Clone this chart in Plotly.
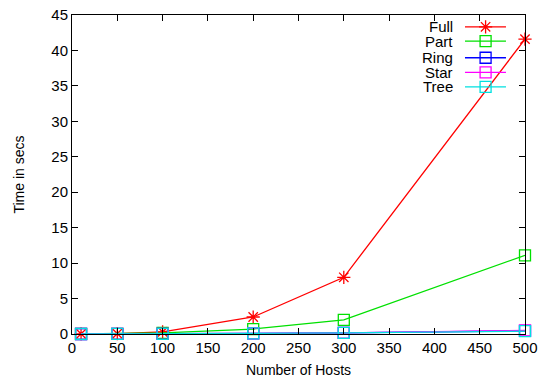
import plotly.graph_objects as go

hosts = [10, 50, 100, 200, 300, 500]
full = [0.02, 0.05, 0.3, 2.4, 8.0, 41.6]
part = [0.01, 0.03, 0.15, 0.7, 2.0, 11.1]
ring = [0.0, 0.01, 0.03, 0.08, 0.15, 0.45]
star = [0.0, 0.01, 0.03, 0.08, 0.15, 0.5]
tree = [0.0, 0.01, 0.03, 0.08, 0.15, 0.4]

names = ["Full", "Part", "Ring", "Star", "Tree"]
series = [full, part, ring, star, tree]
colors = ["#ff0000", "#00e000", "#0000ff", "#ff00ff", "#00e0e0"]
symbols = ["asterisk-open", "square-open", "square-open", "square-open", "square-open"]

x_ticks = [0, 50, 100, 150, 200, 250, 300, 350, 400, 450, 500]
y_ticks = [0, 5, 10, 15, 20, 25, 30, 35, 40, 45]

FS = 15

fig = go.Figure()
for n, s, c, sym in zip(names, series, colors, symbols):
    fig.add_trace(go.Scatter(
        x=hosts, y=s, mode="lines+markers", name=n,
        line=dict(color=c, width=1.3),
        marker=dict(symbol=sym, size=11, color=c, line=dict(color=c, width=1.3)),
        showlegend=False, cliponaxis=False,
    ))

# custom gnuplot-style legend on a hidden overlay axis
leg_y = [0.963, 0.918, 0.866, 0.820, 0.775]
for n, c, sym, ly in zip(names, colors, symbols, leg_y):
    fig.add_trace(go.Scatter(
        x=[0.8675, 0.958], y=[ly, ly], xaxis="x2", yaxis="y2",
        mode="lines", line=dict(color=c, width=1.3), showlegend=False, hoverinfo="skip",
    ))
    fig.add_trace(go.Scatter(
        x=[0.913], y=[ly], xaxis="x2", yaxis="y2",
        mode="markers", marker=dict(symbol=sym, size=11, color=c, line=dict(color=c, width=1.3)),
        showlegend=False, hoverinfo="skip",
    ))
    fig.add_annotation(
        x=0.8455, y=ly, xref="x2", yref="y2", text=n, showarrow=False,
        xanchor="right", yanchor="middle", font=dict(size=FS, color="black"),
    )

fig.add_annotation(x=0.5, y=-0.113, xref="paper", yref="paper", text="Number of Hosts",
                   showarrow=False, xanchor="center", yanchor="middle", font=dict(size=FS - 1))
fig.add_annotation(x=-0.119, y=0.5, xref="paper", yref="paper", text="Time in secs",
                   showarrow=False, xanchor="center", yanchor="middle", textangle=-90,
                   font=dict(size=FS - 1))

axis_common = dict(
    showgrid=False, zeroline=False, showline=True, linecolor="black", linewidth=1,
    ticks="inside", ticklen=6, tickcolor="black", mirror="allticks",
    tickfont=dict(size=FS, color="black"), automargin=False,
)

fig.update_layout(
    width=539, height=381,
    margin=dict(l=72, r=14, t=15, b=47),
    paper_bgcolor="white", plot_bgcolor="white",
    font=dict(family="Liberation Sans, Arial, sans-serif", size=FS, color="black"),
    xaxis=dict(range=[0, 500], tickvals=x_ticks, ticktext=[str(v) for v in x_ticks], **axis_common),
    yaxis=dict(range=[0, 45], tickvals=y_ticks, ticktext=[str(v) for v in y_ticks], **axis_common),
    xaxis2=dict(range=[0, 1], overlaying="x", visible=False, anchor="y2"),
    yaxis2=dict(range=[0, 1], overlaying="y", visible=False, anchor="x2"),
)

fig.write_html("out.html", config={"displayModeBar": False},
               post_script="document.body.style.margin='0';")
